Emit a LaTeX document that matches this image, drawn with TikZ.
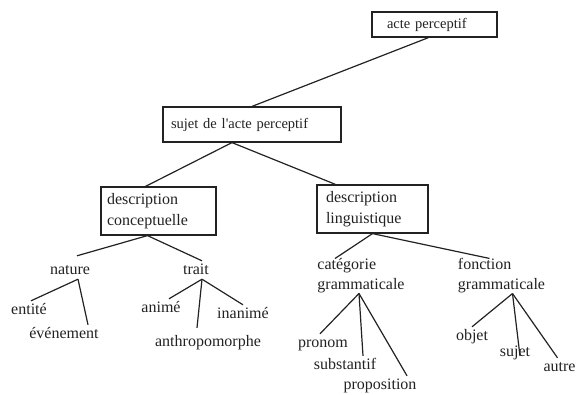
\documentclass[tikz,border=0pt]{standalone}
\usepackage{fontspec}
\setmainfont{Liberation Serif}
\usepackage{tikz}
\usepackage{xcolor}
\usetikzlibrary{positioning}
\definecolor{ink}{HTML}{222222}
\newcommand\boxfont{\fontsize{14.5}{17}\selectfont}
\newcommand\descfont{\fontsize{16}{21}\selectfont}
\newcommand\leaffont{\fontsize{16}{20}\selectfont}
\tikzset{
    % Framed concept box
    concept box/.style={
        rectangle,
        draw=ink,
        line width=1.2pt,
        align=left,
        text=ink
    },
    % Two-line branch label
    branch/.style={
        align=left,
        inner sep=0pt,
        font=\leaffont,
        text=ink
    },
    % Leaf label
    leaf/.style={
        inner sep=2pt,
        text height=11pt,
        text depth=3pt,
        font=\leaffont,
        text=ink
    },
    % Tree edge
    edge/.style={
        line width=1.2pt,
        draw=ink
    }
}
\begin{document}
\begin{tikzpicture}[x=1pt, y=-1pt]
        \useasboundingbox (0,0) rectangle (576,394);

        % Boxes
        \node[concept box, font=\boxfont, text width=95pt, inner xsep=15pt, minimum height=25pt] (acte) at (434.5, 24.5) {acte perceptif};
        \node[concept box, font=\boxfont, text width=162pt, inner xsep=8pt, minimum height=35pt] (sujet) at (252, 124.5) {sujet de l\textquotesingle acte perceptif};
        \node[concept box, font=\descfont, text width=103pt, inner xsep=6pt, minimum height=48pt] (concept) at (158.5, 211) {description\\conceptuelle};
        \node[concept box, font=\descfont, text width=93pt, inner xsep=9pt, minimum height=48pt] (linguist) at (372.5, 209) {description\\linguistique};

        % Conceptual side
        \node[leaf] (nature) at (70, 270) {nature};
        \node[leaf] (trait) at (196, 270) {trait};
        \node[leaf] (entite) at (29, 310) {entité};
        \node[leaf] (evenement) at (64, 334) {événement};
        \node[leaf] (anime) at (161, 308) {animé};
        \node[leaf] (anthropo) at (208, 342) {anthropomorphe};
        \node[leaf] (inanime) at (243, 314) {inanimé};

        % Linguistic side
        \node[branch] (categorie) at (361, 276) {catégorie\\grammaticale};
        \node[branch] (fonction) at (501.5, 276) {fonction\\grammaticale};
        \node[leaf] (pronom) at (323, 343) {pronom};
        \node[leaf] (substantif) at (345, 365) {substantif};
        \node[leaf] (proposition) at (380, 385) {proposition};
        \node[leaf] (objet) at (472, 336) {objet};
        \node[leaf] (sujetgr) at (515, 352) {sujet};
        \node[leaf] (autre) at (559.5, 367) {autre};

        % Edges
        \draw[edge] ([xshift=-6pt]acte.south) -- (sujet.north);
        \draw[edge] ([xshift=-20pt]sujet.south) -- ([xshift=-13pt]concept.north);
        \draw[edge] ([xshift=-20pt]sujet.south) -- ([xshift=-37pt]linguist.north);

        \draw[edge] ([xshift=-11pt]concept.south) -- ([xshift=7pt, yshift=5pt]nature.north);
        \draw[edge] ([xshift=-11pt]concept.south) -- ([xshift=6pt]trait.north);
        \draw[edge] ([xshift=8pt]nature.south) -- ([xshift=2pt]entite.north);
        \draw[edge] ([xshift=8pt]nature.south) -- ([xshift=24pt]evenement.north);
        \draw[edge] ([xshift=6pt]trait.south) -- ([xshift=8pt]anime.north);
        \draw[edge] ([xshift=6pt]trait.south) -- ([xshift=-11pt, yshift=5pt]anthropo.north);
        \draw[edge] ([xshift=6pt]trait.south) -- (inanime.north);

        \draw[edge] (linguist.south) -- ([xshift=-26pt]categorie.north);
        \draw[edge] (linguist.south) -- ([xshift=-12pt]fonction.north);
        \draw[edge] ([xshift=-2pt]categorie.south) -- ([xshift=-3pt]pronom.north);
        \draw[edge] ([xshift=-2pt]categorie.south) -- ([xshift=18pt]substantif.north);
        \draw[edge] ([xshift=-2pt]categorie.south) -- ([xshift=27pt]proposition.north);
        \draw[edge] ([xshift=11pt]fonction.south) -- (objet.north);
        \draw[edge] ([xshift=11pt]fonction.south) -- ([xshift=5pt]sujetgr.base);
        \draw[edge] ([xshift=11pt]fonction.south) -- ([xshift=-2pt]autre.north);

    \end{tikzpicture}
\end{document}
